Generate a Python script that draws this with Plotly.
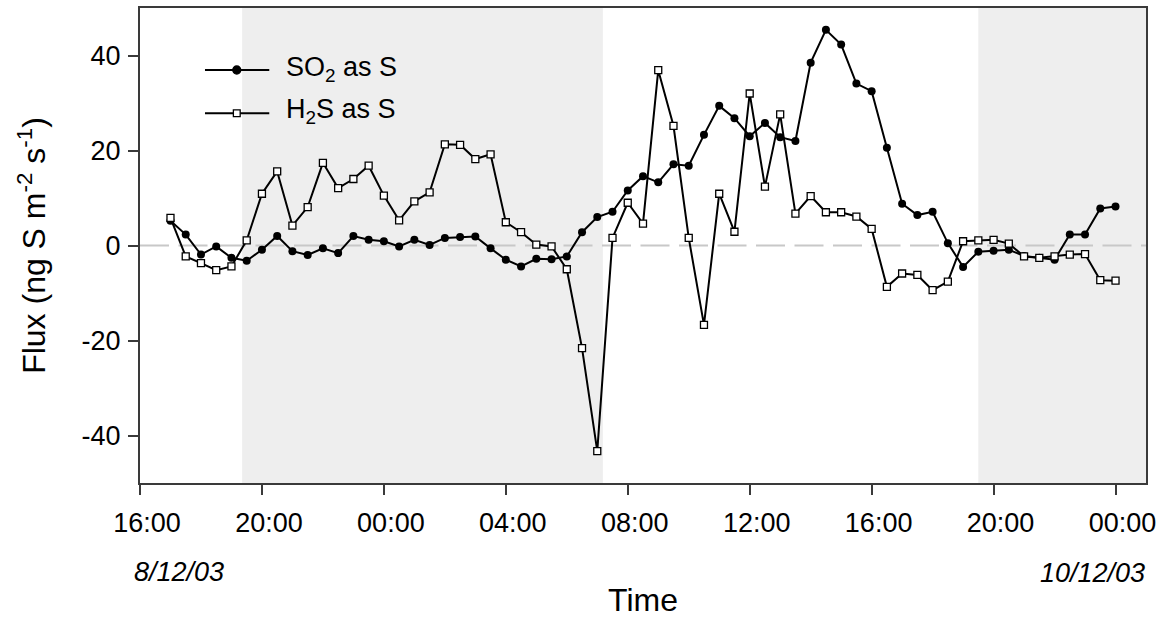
import pandas as pd
import plotly.graph_objects as go

# Half-hourly flux measurements, 17:00 on 8/12/03 to 00:00 on 10/12/03
start_time = "2003-12-08 17:00"
n_points = 63
times = pd.date_range(start_time, periods=n_points, freq="30min")

so2_flux = [
    5.2, 2.3, -1.9, -0.2, -2.6, -3.2, -0.9, 2.0, -1.2, -2.0,
    -0.6, -1.6, 2.0, 1.2, 0.9, -0.2, 1.2, 0.1, 1.6, 1.8,
    1.9, -0.6, -3.0, -4.4, -2.8, -2.9, -2.3, 2.8, 6.0, 7.1,
    11.6, 14.6, 13.3, 17.1, 16.8, 23.3, 29.4, 26.8, 23.0, 25.8,
    22.8, 22.0, 38.5, 45.4, 42.3, 34.1, 32.5, 20.6, 8.8, 6.4,
    7.1, 0.5, -4.5, -1.3, -1.1, -0.9, -2.2, -2.6, -3.0, 2.3,
    2.3, 7.8, 8.2,
]

h2s_flux = [
    5.8, -2.3, -3.7, -5.2, -4.4, 1.1, 10.9, 15.6, 4.2, 8.1,
    17.4, 12.1, 14.0, 16.8, 10.5, 5.3, 9.3, 11.2, 21.3, 21.2,
    18.2, 19.2, 4.9, 2.8, 0.2, -0.2, -5.0, -21.6, -43.3, 1.6,
    9.0, 4.6, 36.9, 25.2, 1.6, -16.7, 10.9, 2.9, 32.0, 12.4,
    27.6, 6.7, 10.4, 7.0, 7.0, 6.1, 3.5, -8.7, -5.9, -6.2,
    -9.4, -7.6, 0.9, 1.1, 1.2, 0.4, -2.3, -2.6, -2.3, -1.9,
    -1.8, -7.3, -7.4,
]

# Night-time periods (shaded)
night_starts = ["2003-12-08 19:21", "2003-12-09 19:30"]
night_ends = ["2003-12-09 07:11", "2003-12-10 01:00"]

x_range = ["2003-12-08 16:00", "2003-12-10 01:00"]
y_range = [-50, 50]
y_ticks = [-40, -20, 0, 20, 40]
y_tick_labels = ["-40", "-20", "0", "20", "40"]
date_labels = ["8/12/03", "10/12/03"]

FONT = "Liberation Sans, Arial, sans-serif"
AXIS_COLOR = "#3a3a3a"

fig = go.Figure()

fig.add_trace(go.Scatter(
    x=times, y=so2_flux, mode="lines+markers", name="SO2 as S",
    line=dict(color="black", width=2),
    marker=dict(symbol="circle", size=8, color="black"),
    showlegend=False,
))
fig.add_trace(go.Scatter(
    x=times, y=h2s_flux, mode="lines+markers", name="H2S as S",
    line=dict(color="black", width=2),
    marker=dict(symbol="square", size=7, color="white",
                line=dict(color="black", width=1.3)),
    showlegend=False,
))

# Shaded night periods
for x0, x1 in zip(night_starts, night_ends):
    fig.add_shape(type="rect", xref="x", yref="paper", x0=x0, x1=x1, y0=0, y1=1,
                  fillcolor="#eeeeee", line=dict(width=0), layer="below")

# Dashed zero line
fig.add_shape(type="line", xref="paper", yref="y", x0=0, x1=1, y0=0, y1=0,
              line=dict(color="#c8c8c8", width=2, dash="29px,9.5px"), layer="below")

# Legend: line samples with markers, plus labels
legend_rows = [
    ("SO<sub>2</sub> as S", 0.8695, 0.872, "circle", "black", 4),
    ("H<sub>2</sub>S as S", 0.7783, 0.783, "rect", "white", 3.4),
]
lx0, lx1, lmx, ltx = 0.0646, 0.1285, 0.0962, 0.1431
for label, ly, lty, shp, fill, half in legend_rows:
    fig.add_shape(type="line", xref="paper", yref="paper", x0=lx0, x1=lx1, y0=ly, y1=ly,
                  line=dict(color="black", width=2))
    fig.add_shape(type=shp, xref="paper", yref="paper",
                  xsizemode="pixel", ysizemode="pixel", xanchor=lmx, yanchor=ly,
                  x0=-half, x1=half, y0=-half, y1=half,
                  fillcolor=fill, line=dict(color="black", width=1.3))
    fig.add_annotation(text=label, xref="paper", yref="paper", x=ltx, y=lty,
                       xanchor="left", yanchor="middle", showarrow=False,
                       font=dict(family=FONT, size=27, color="black"))

# Date labels beneath the time axis
fig.add_annotation(text=f"<i>{date_labels[0]}</i>", xref="paper", yref="paper",
                   x=(178.5 - 140) / 1006, y=(483 - 572) / 475, xanchor="center",
                   yanchor="middle", showarrow=False,
                   font=dict(family=FONT, size=27, color="black"))
fig.add_annotation(text=f"<i>{date_labels[1]}</i>", xref="paper", yref="paper",
                   x=(1092.5 - 140) / 1006, y=(483 - 573) / 475, xanchor="center",
                   yanchor="middle", showarrow=False,
                   font=dict(family=FONT, size=27, color="black"))

fig.update_layout(
    width=1169, height=622,
    margin=dict(l=140, r=23, t=8, b=139),
    paper_bgcolor="white", plot_bgcolor="white",
    font=dict(family=FONT, color="black"),
    xaxis=dict(
        type="date", range=x_range, dtick=4 * 3600 * 1000,
        tick0="2003-12-08 16:00", tickformat="%H:%M",
        showgrid=False, zeroline=False,
        showline=True, mirror=True, linecolor=AXIS_COLOR, linewidth=2,
        ticks="outside", ticklen=10, tickwidth=1.5, tickcolor=AXIS_COLOR,
        tickfont=dict(family=FONT, size=27, color="black"),
        ticklabelshift=7, ticklabelstandoff=5,
        title=dict(text="Time", font=dict(family=FONT, size=32, color="black"),
                   standoff=51),
        automargin=False,
    ),
    yaxis=dict(
        range=y_range, tickvals=y_ticks, ticktext=y_tick_labels,
        showgrid=False, zeroline=False,
        showline=True, mirror=True, linecolor=AXIS_COLOR, linewidth=2,
        ticks="outside", ticklen=10, tickwidth=1.5, tickcolor=AXIS_COLOR,
        tickfont=dict(family=FONT, size=27, color="black"),
        ticklabelstandoff=2,
        title=dict(text="Flux (ng S m<sup>-2</sup> s<sup>-1</sup>)",
                   font=dict(family=FONT, size=32, color="black"), standoff=26),
        automargin=False,
    ),
)

fig.write_html("out.html")
